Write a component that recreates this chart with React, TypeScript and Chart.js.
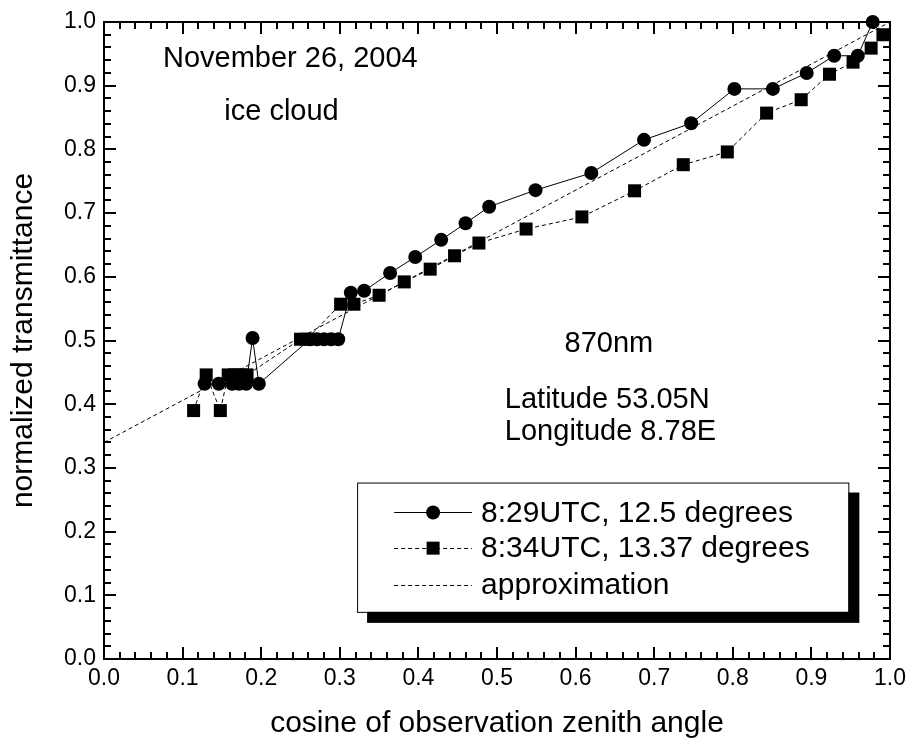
import React, { useEffect, useRef } from "react";
import { Chart, registerables } from "chart.js";

Chart.register(...registerables);

// ---- data ----
const circleX = [0.128, 0.146, 0.163, 0.172, 0.181, 0.189, 0.197, 0.262, 0.271, 0.28, 0.289, 0.298, 0.314, 0.331, 0.364, 0.396, 0.429, 0.46, 0.49, 0.549, 0.62, 0.687, 0.747, 0.802, 0.851, 0.894, 0.929, 0.959, 0.978];
const circleY = [0.432, 0.432, 0.432, 0.432, 0.432, 0.504, 0.432, 0.502, 0.502, 0.502, 0.502, 0.502, 0.575, 0.578, 0.606, 0.631, 0.658, 0.684, 0.71, 0.736, 0.763, 0.815, 0.841, 0.895, 0.895, 0.92, 0.947, 0.947, 1.0];

const squareX = [0.114, 0.13, 0.148, 0.158, 0.166, 0.174, 0.182, 0.25, 0.258, 0.301, 0.318, 0.35, 0.382, 0.415, 0.446, 0.477, 0.537, 0.608, 0.675, 0.737, 0.793, 0.843, 0.887, 0.923, 0.953, 0.976, 0.991];
const squareY = [0.39, 0.446, 0.39, 0.446, 0.446, 0.446, 0.446, 0.502, 0.502, 0.557, 0.557, 0.571, 0.592, 0.612, 0.633, 0.653, 0.675, 0.694, 0.735, 0.776, 0.796, 0.857, 0.878, 0.918, 0.937, 0.959, 0.98];

const approxX = [0, 1];
const approxY = [0.34, 1.0];

const xTicks = [0, 0.1, 0.2, 0.3, 0.4, 0.5, 0.6, 0.7, 0.8, 0.9, 1.0];
const yTicks = [0, 0.1, 0.2, 0.3, 0.4, 0.5, 0.6, 0.7, 0.8, 0.9, 1.0];

const seriesLabels = ["8:29UTC, 12.5 degrees", "8:34UTC, 13.37 degrees", "approximation"];
const notes = ["November 26, 2004", "ice cloud", "870nm", "Latitude 53.05N", "Longitude 8.78E"];
const xTitle = "cosine of observation zenith angle";
const yTitle = "normalized transmittance";

const FONT = "'Liberation Sans', Arial, sans-serif";
const DASH = [4, 3];

const framePlugin = {
  id: "frame",
  beforeDatasetsDraw(chart: any) {
    const { ctx, chartArea: a, scales } = chart;
    const xs = scales.x;
    const ys = scales.y;
    ctx.save();
    ctx.strokeStyle = "#000";
    ctx.lineWidth = 2;
    ctx.strokeRect(a.left, a.top, a.right - a.left, a.bottom - a.top);
    const major = 12;
    const minor = 7;
    const sub = 5;
    ctx.beginPath();
    const tickSet = (ticks: number[]) => {
      const out: { v: number; major: boolean }[] = [];
      for (let i = 0; i < ticks.length; i++) {
        out.push({ v: ticks[i], major: true });
        if (i < ticks.length - 1) {
          const step = (ticks[i + 1] - ticks[i]) / sub;
          for (let k = 1; k < sub; k++) out.push({ v: ticks[i] + step * k, major: false });
        }
      }
      return out;
    };
    for (const t of tickSet(xTicks)) {
      const px = Math.round(xs.getPixelForValue(t.v));
      const len = t.major ? major : minor;
      ctx.moveTo(px, a.bottom);
      ctx.lineTo(px, a.bottom - len);
      ctx.moveTo(px, a.top);
      ctx.lineTo(px, a.top + len);
    }
    for (const t of tickSet(yTicks)) {
      const py = Math.round(ys.getPixelForValue(t.v));
      const len = t.major ? major : minor;
      ctx.moveTo(a.left, py);
      ctx.lineTo(a.left + len, py);
      ctx.moveTo(a.right, py);
      ctx.lineTo(a.right - len, py);
    }
    ctx.stroke();
    ctx.restore();
  },
  afterDraw(chart: any) {
    const { ctx, scales } = chart;
    const xs = scales.x;
    const ys = scales.y;
    ctx.save();
    ctx.fillStyle = "#000";
    ctx.font = `29px ${FONT}`;
    ctx.textAlign = "left";
    ctx.textBaseline = "alphabetic";
    const notePos = [
      [0.075, 0.929],
      [0.153, 0.846],
      [0.586, 0.482],
      [0.51, 0.394],
      [0.51, 0.344],
    ];
    notes.forEach((t, i) => {
      ctx.fillText(t, xs.getPixelForValue(notePos[i][0]), ys.getPixelForValue(notePos[i][1]));
    });

    // legend
    const L = xs.getPixelForValue(0.322);
    const R = xs.getPixelForValue(0.947);
    const T = ys.getPixelForValue(0.277);
    const B = ys.getPixelForValue(0.074);
    ctx.fillStyle = "#000";
    ctx.fillRect(L + 10, T + 10, R - L + 1, B - T + 1);
    ctx.fillStyle = "#fff";
    ctx.fillRect(L, T, R - L, B - T);
    ctx.strokeStyle = "#000";
    ctx.lineWidth = 1;
    ctx.strokeRect(L + 0.5, T + 0.5, R - L, B - T);

    const rowY = [0.23, 0.174, 0.116].map((v) => ys.getPixelForValue(v));
    const sx0 = L + 37;
    const sx1 = L + 115;
    const mx = (sx0 + sx1) / 2;
    const tx = L + 124;
    ctx.font = `30px ${FONT}`;
    ctx.textBaseline = "middle";
    rowY.forEach((y, i) => {
      ctx.beginPath();
      ctx.strokeStyle = "#000";
      ctx.lineWidth = 1;
      ctx.setLineDash(i === 0 ? [] : DASH);
      ctx.moveTo(sx0, Math.round(y) + 0.5);
      ctx.lineTo(sx1, Math.round(y) + 0.5);
      ctx.stroke();
      ctx.setLineDash([]);
      ctx.fillStyle = "#000";
      if (i === 0) {
        ctx.beginPath();
        ctx.arc(mx, y, 7, 0, Math.PI * 2);
        ctx.fill();
      } else if (i === 1) {
        ctx.fillRect(mx - 6.5, y - 6.5, 13, 13);
      }
      ctx.fillText(seriesLabels[i], tx, y + 1);
    });
    ctx.restore();
  },
};

export default function App() {
  const ref = useRef<HTMLCanvasElement | null>(null);
  useEffect(() => {
    document.body.style.margin = "0";
    const canvas = ref.current;
    if (!canvas) return;
    const chart = new Chart(canvas, {
      type: "scatter",
      data: {
        datasets: [
          {
            label: seriesLabels[0],
            data: circleX.map((x, i) => ({ x, y: circleY[i] })),
            showLine: true,
            borderColor: "#000",
            borderWidth: 1,
            pointStyle: "circle",
            pointRadius: 7,
            pointBackgroundColor: "#000",
            pointBorderWidth: 0,
            clip: false,
            order: 1,
          },
          {
            label: seriesLabels[1],
            data: squareX.map((x, i) => ({ x, y: squareY[i] })),
            showLine: true,
            borderColor: "#000",
            borderWidth: 1,
            borderDash: DASH,
            pointStyle: "rect",
            pointRadius: 9.2,
            pointBackgroundColor: "#000",
            pointBorderWidth: 0,
            clip: false,
            order: 2,
          },
          {
            label: seriesLabels[2],
            data: approxX.map((x, i) => ({ x, y: approxY[i] })),
            showLine: true,
            borderColor: "#000",
            borderWidth: 1,
            borderDash: DASH,
            pointRadius: 0,
            clip: false,
            order: 3,
          },
        ],
      } as any,
      options: {
        animation: false,
        responsive: false,
        devicePixelRatio: 1,
        layout: { padding: { left: 0, right: 18, top: 22, bottom: 0 } },
        plugins: { legend: { display: false }, tooltip: { enabled: false } },
        scales: {
          x: {
            type: "linear",
            min: 0,
            max: 1,
            afterFit: (s: any) => {
              s.height = 87;
            },
            afterBuildTicks: (s: any) => {
              s.ticks = xTicks.map((v) => ({ value: v }));
            },
            ticks: {
              callback: (v: any) => Number(v).toFixed(1),
              font: { size: 23, family: FONT },
              color: "#000",
              padding: 6,
              maxRotation: 0,
              autoSkip: false,
            },
            grid: { display: false, drawTicks: false },
            border: { display: false },
            title: {
              display: true,
              text: xTitle,
              font: { size: 30, family: FONT },
              color: "#000",
              padding: { top: 0, bottom: 4 },
            },
          },
          y: {
            type: "linear",
            min: 0,
            max: 1,
            afterFit: (s: any) => {
              s.width = 104;
            },
            afterBuildTicks: (s: any) => {
              s.ticks = yTicks.map((v) => ({ value: v }));
            },
            ticks: {
              callback: (v: any) => Number(v).toFixed(1),
              font: { size: 23, family: FONT },
              color: "#000",
              padding: 8,
              autoSkip: false,
            },
            grid: { display: false, drawTicks: false },
            border: { display: false },
            title: {
              display: true,
              text: yTitle,
              font: { size: 30, family: FONT },
              color: "#000",
              padding: { top: 6, bottom: 0 },
            },
          },
        },
      } as any,
      plugins: [framePlugin],
    });
    return () => chart.destroy();
  }, []);
  return (
    <div style={{ width: 912, height: 746, background: "#fff" }}>
      <canvas ref={ref} width={912} height={746} style={{ display: "block", width: 912, height: 746 }} />
    </div>
  );
}
